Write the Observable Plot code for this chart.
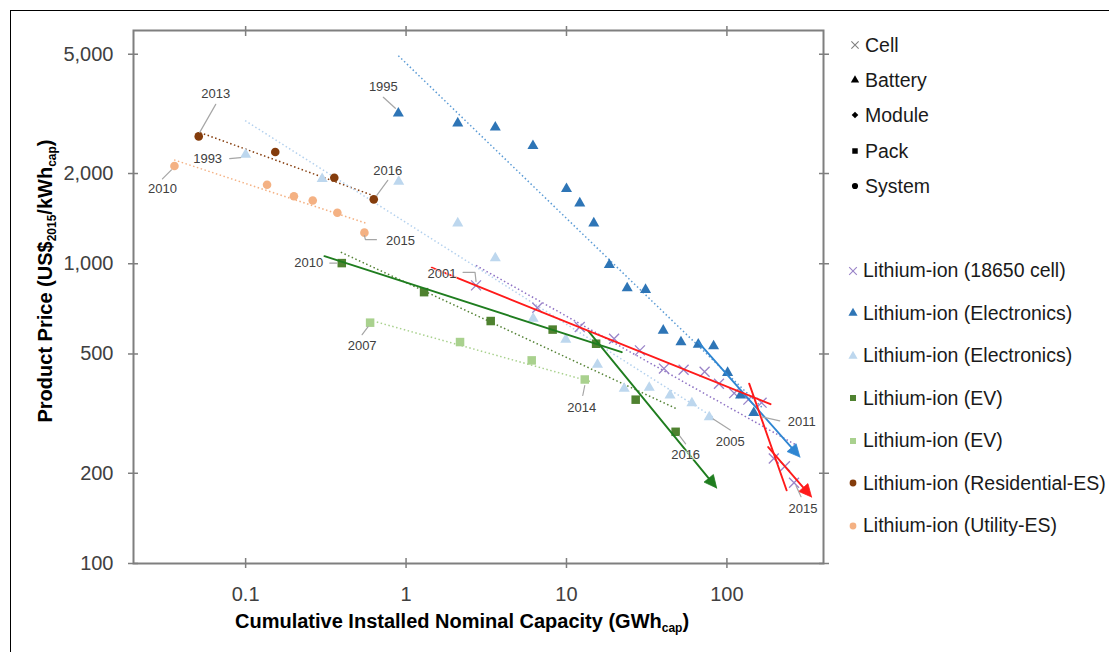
<!DOCTYPE html>
<html>
<head>
<meta charset="utf-8">
<script src="https://cdn.jsdelivr.net/npm/d3@7"></script>
<script src="https://cdn.jsdelivr.net/npm/@observablehq/plot@0.6"></script>
<style>
  body { margin: 0; background: #fff; font-family: "Liberation Sans", Arial, sans-serif; }
  #wrap { position: relative; width: 1109px; height: 652px; overflow: hidden; }
  #border { position: absolute; left: 10px; top: 10px; width: 1300px; height: 800px;
            border-left: 1px solid #000; border-top: 1px solid #000; }
  #chart { position: absolute; left: 0; top: 0; }
  .title { position: absolute; font-weight: bold; font-size: 20px; color: #000; white-space: nowrap; line-height: 1; }
  .title sub { font-size: 0.6em; vertical-align: -0.3em; line-height: 0; }
  #ytitle { left: 45px; top: 281px; transform: translate(-50%, -50%) rotate(-90deg); }
  #xtitle { left: 235px; top: 611px; }
  .lg { position: absolute; height: 24px; display: flex; align-items: center; font-size: 19.5px; color: #1a1a1a; white-space: nowrap; }
  .lg svg { flex: none; }
</style>
</head>
<body>
<div id="wrap">
  <div id="border"></div>
  <div id="chart"></div>
  <div class="title" id="ytitle">Product Price (US$<sub>2015</sub>/kWh<sub>cap</sub>)</div>
  <div class="title" id="xtitle">Cumulative Installed Nominal Capacity (GWh<sub>cap</sub>)</div>
  <div id="legend"></div>
</div>
<script>
// ---- Observations: cumulative capacity (GWh) and product price (US$2015/kWh) ----
const cellCapacity = [2.73, 6.58, 12.1, 19.8, 28.7, 40.5, 53.7, 72.6, 89.2, 111, 136, 164.5, 196, 230, 262];
const cellPrice = [847, 713, 615, 562, 514, 447, 443, 436, 398, 370, 352, 344, 224, 211, 186];
const elecCapacity = [0.895, 2.1, 3.6, 6.18, 10.0, 12.1, 14.8, 18.5, 23.9, 31.1, 40.1, 51.7, 66.3, 82.6, 101, 121.6, 147];
const elecPrice = [3177, 2943, 2853, 2474, 1778, 1592, 1365, 992, 829, 819, 599, 548, 538, 531, 433, 364, 318];
const elecLightCapacity = [0.1, 0.3, 0.9, 2.1, 3.6, 6.2, 9.9, 15.6, 22.9, 32.8, 44.2, 60.5, 77.6];
const elecLightPrice = [2314, 1919, 1879, 1365, 1044, 656, 559, 461, 383, 386, 364, 343, 308];
const evCapacity = [0.3975, 1.295, 3.37, 8.2, 15.3, 27, 47.9];
const evPrice = [1005, 804, 644, 603, 541, 352, 275];
const evLightCapacity = [0.597, 2.17, 6.07, 13.0];
const evLightPrice = [636, 548, 476, 411];
const residentialCapacity = [0.051, 0.153, 0.357, 0.629];
const residentialPrice = [2660, 2360, 1935, 1640];
const utilityCapacity = [0.036, 0.136, 0.200, 0.262, 0.373, 0.55];
const utilityPrice = [2120, 1835, 1680, 1625, 1480, 1270];

// ---- Fitted experience curves (dotted), endpoints in data units ----
const fitSeries = ["residential", "utility", "elecLight", "elec", "cell", "ev", "evLight"];
const fitCapacity = [[0.052, 0.623], [0.0358, 0.561], [0.0993, 81.8], [0.895, 168], [2.73, 272], [0.392, 48.1], [0.657, 14.0]];
const fitPrice = [[2739, 1689], [2221, 1366], [3003, 308], [4943, 329], [987, 248], [1093, 329], [639, 405]];

// ---- Piecewise experience-rate segments (solid), some ending in arrows ----
const segmentSeries = ["ev", "ev", "elec", "cell", "cell", "cell"];
const segmentCapacity = [[0.31, 22.1], [13.7, 86.3], [66.3, 285], [1.446, 187], [137.7, 235.5], [180.8, 337]];
const segmentPrice = [[1060, 507], [596, 178.6], [548, 226.6], [970, 340], [398, 175.5], [244.7, 166.7]];
const segmentArrow = [false, true, true, false, false, true];

// ---- Year annotations: which observation each label points at ----
const annotationText = ["2013", "2016", "2010", "2015", "1993", "1995", "2001", "2010", "2007", "2014", "2016", "2005", "2011", "2015"];
const annotationSeries = ["residential", "residential", "utility", "utility", "elecLight", "elec", "cell", "ev", "evLight", "evLight", "ev", "elecLight", "elec", "cell"];
const annotationIndex = [0, 3, 0, 5, 0, 0, 0, 0, 0, 3, 6, 12, 16, 14];

// ---- Axis ticks ----
const xTicks = [0.1, 1, 10, 100];
const yTicks = [100, 200, 500, 1000, 2000, 5000];

// ---- Legend entries ----
const shapeLabels = ["Cell", "Battery", "Module", "Pack", "System"];
const seriesLabels = ["Lithium-ion (18650 cell)", "Lithium-ion (Electronics)", "Lithium-ion (Electronics)",
  "Lithium-ion (EV)", "Lithium-ion (EV)", "Lithium-ion (Residential-ES)", "Lithium-ion (Utility-ES)"];

// ---------------------------------------------------------------------------
const series = {
  cell:        {capacity: cellCapacity, price: cellPrice},
  elec:        {capacity: elecCapacity, price: elecPrice},
  elecLight:   {capacity: elecLightCapacity, price: elecLightPrice},
  ev:          {capacity: evCapacity, price: evPrice},
  evLight:     {capacity: evLightCapacity, price: evLightPrice},
  residential: {capacity: residentialCapacity, price: residentialPrice},
  utility:     {capacity: utilityCapacity, price: utilityPrice}
};
const seriesOrder = ["cell", "elec", "elecLight", "ev", "evLight", "residential", "utility"];

// styling
const markStyle = {
  cell:        {symbol: "times",    color: "#9a84c8", r: 4.6},
  elec:        {symbol: "triangle", color: "#2e75b6", r: 4.1},
  elecLight:   {symbol: "triangle", color: "#bdd7ee", r: 4.1},
  ev:          {symbol: "square",   color: "#4f8230", r: 4.8},
  evLight:     {symbol: "square",   color: "#a9d18e", r: 4.8},
  residential: {symbol: "circle",   color: "#843c0c", r: 4.3},
  utility:     {symbol: "circle",   color: "#f4b183", r: 4.3}
};
const fitColor = {residential: "#843c0c", utility: "#f4b183", elecLight: "#b4d1ee", elec: "#5b9bd5",
  cell: "#8e72c4", ev: "#548235", evLight: "#a9d18e"};
const segmentColor = {cell: "#ff1a1a", ev: "#1f7d1f", elec: "#2f86d2"};
const legendSymbol = {Cell: ["times", "#808080"], Battery: ["triangle", "#000"], Module: ["diamond", "#000"],
  Pack: ["square", "#000"], System: ["circle", "#000"]};

// per-label layout: text centre offset and leader polyline (pixels from the point)
const annotationLayout = [
  {dx: 17, dy: -43, leader: [[1, -4], [17, -32]]},
  {dx: 14, dy: -29, leader: [[3, -4], [14, -19]]},
  {dx: -12, dy: 23, leader: [[-3, 4], [-12, 13]]},
  {dx: 36, dy: 8, leader: [[0, 3], [1, 7], [12, 7]]},
  {dx: -38, dy: 4, leader: [[-5, 3], [-16, 4]]},
  {dx: -15, dy: -26, leader: [[-3, -5], [-15, -16]]},
  {dx: -34, dy: -12, leader: [[0, -4], [-1, -13], [-13, -13]]},
  {dx: -33, dy: 0, leader: [[-5, 0], [-12, 0]]},
  {dx: -8, dy: 23, leader: [[-2, 4], [-8, 12]]},
  {dx: -3, dy: 28, leader: [[0, 6], [-2, 16]]},
  {dx: 10, dy: 23, leader: [[4, 4], [10, 12]]},
  {dx: 21, dy: 25, leader: [[4, 2], [21, 13]]},
  {dx: 48, dy: 9, leader: [[8, 4], [26, 8]]},
  {dx: 9, dy: 26, leader: [[2, 3], [7, 14]]}
];

const W = 1109, H = 652;
const margin = {top: 30, right: 286, bottom: 89, left: 133};
const xDomain = [0.02, 400], yDomain = [100, 6000];

const sx = Plot.scale({x: {type: "log", domain: xDomain, range: [margin.left, W - margin.right]}});
const sy = Plot.scale({y: {type: "log", domain: yDomain, range: [H - margin.bottom, margin.top]}});
const toPx = (c, p) => [sx.apply(c), sy.apply(p)];
const toData = ([px, py]) => ({capacity: sx.invert(px), price: sy.invert(py)});

const FRAME = "#7f7f7f";
const marks = [];

// dotted fitted curves
fitSeries.forEach((s, i) => {
  marks.push(Plot.line([0, 1].map(k => ({capacity: fitCapacity[i][k], price: fitPrice[i][k]})), {
    x: "capacity", y: "price", stroke: fitColor[s], strokeWidth: 1.5, strokeDasharray: "1.5,2.5", strokeLinecap: "butt"
  }));
});

// observations
seriesOrder.forEach(s => {
  const st = markStyle[s];
  const data = series[s].capacity.map((c, i) => ({capacity: c, price: series[s].price[i]}));
  const opts = {x: "capacity", y: "price", symbol: st.symbol, r: st.r};
  if (st.symbol === "times") Object.assign(opts, {stroke: st.color, strokeWidth: 1.3, fill: "none"});
  else Object.assign(opts, {fill: st.color, stroke: "none"});
  marks.push(Plot.dot(data, opts));
});

// solid segments and filled arrowheads
segmentSeries.forEach((s, i) => {
  const color = segmentColor[s];
  const a = toPx(segmentCapacity[i][0], segmentPrice[i][0]);
  const b = toPx(segmentCapacity[i][1], segmentPrice[i][1]);
  let end = b;
  if (segmentArrow[i]) {
    const len = Math.hypot(b[0] - a[0], b[1] - a[1]);
    const u = [(b[0] - a[0]) / len, (b[1] - a[1]) / len];
    const n = [-u[1], u[0]];
    const L = 12.5, w = 6;
    const base = [b[0] - u[0] * L, b[1] - u[1] * L];
    end = [base[0] + u[0], base[1] + u[1]];
    const head = [b, [base[0] + n[0] * w, base[1] + n[1] * w], [base[0] - n[0] * w, base[1] - n[1] * w], b].map(toData);
    marks.push(Plot.line(head, {x: "capacity", y: "price", fill: color, stroke: color, strokeWidth: 0.8, strokeLinejoin: "miter"}));
  }
  marks.push(Plot.line([a, end].map(toData), {x: "capacity", y: "price", stroke: color, strokeWidth: 1.9}));
});

// leaders and year labels
const labelData = [];
const leaderData = [];
annotationText.forEach((t, i) => {
  const s = series[annotationSeries[i]];
  const k = annotationIndex[i];
  const p = toPx(s.capacity[k], s.price[k]);
  const lay = annotationLayout[i];
  labelData.push({...toData([p[0] + lay.dx, p[1] + lay.dy]), text: t});
  lay.leader.forEach(([ox, oy]) => leaderData.push({...toData([p[0] + ox, p[1] + oy]), id: i}));
});
marks.push(Plot.line(leaderData, {x: "capacity", y: "price", z: "id", stroke: "#a6a6a6", strokeWidth: 1.2}));
marks.push(Plot.text(labelData, {x: "capacity", y: "price", text: "text", fontSize: 13, fill: "#404040",
  stroke: "white", strokeWidth: 2, strokeOpacity: 0.7}));

// frame, axes with crossing ticks on all four sides
marks.push(Plot.frame({stroke: FRAME, strokeWidth: 2}));
marks.push(Plot.axisY({ticks: yTicks, anchor: "left", tickSize: 10, dx: 5, tickFormat: () => "", stroke: FRAME, strokeWidth: 1.5, label: null}));
marks.push(Plot.axisY({ticks: yTicks, anchor: "right", tickSize: 10, dx: -5, tickFormat: () => "", stroke: FRAME, strokeWidth: 1.5, label: null}));
marks.push(Plot.axisX({ticks: xTicks, anchor: "bottom", tickSize: 10, dy: -5, tickFormat: () => "", stroke: FRAME, strokeWidth: 1.5, label: null}));
marks.push(Plot.axisX({ticks: xTicks, anchor: "top", tickSize: 10, dy: 5, tickFormat: () => "", stroke: FRAME, strokeWidth: 1.5, label: null}));
marks.push(Plot.axisY({ticks: yTicks, anchor: "left", tickSize: 0, tickPadding: 20, tickFormat: d3.format(","), fontSize: 20, fill: "#404040", label: null}));
marks.push(Plot.axisX({ticks: xTicks, anchor: "bottom", tickSize: 0, tickPadding: 23, tickFormat: d => String(d), fontSize: 20, fill: "#404040", label: null}));

const chart = Plot.plot({
  width: W, height: H,
  marginTop: margin.top, marginRight: margin.right, marginBottom: margin.bottom, marginLeft: margin.left,
  style: {fontFamily: "'Liberation Sans', Arial, sans-serif", background: "transparent", overflow: "visible"},
  x: {type: "log", domain: xDomain, label: null},
  y: {type: "log", domain: yDomain, label: null},
  marks
});
document.getElementById("chart").append(chart);

// ---- legend ----
const symbolPath = {times: d3.symbolTimes, triangle: d3.symbolTriangle, diamond: d3.symbolSquare, square: d3.symbolSquare, circle: d3.symbolCircle};
function icon(shape, color, size) {
  const svg = d3.create("svg").attr("width", 14).attr("height", 14).attr("viewBox", "-7 -7 14 14");
  const p = svg.append("path").attr("d", d3.symbol(symbolPath[shape], size)());
  if (shape === "diamond") p.attr("transform", "rotate(45)");
  if (shape === "times") p.attr("fill", "none").attr("stroke", color).attr("stroke-width", 1.1);
  else p.attr("fill", color);
  return svg.node();
}
const legend = document.getElementById("legend");
const shapeRowY = [45, 80, 115, 151, 186];
shapeLabels.forEach((lab, i) => {
  const row = document.createElement("div");
  row.className = "lg";
  row.style.left = "848px";
  row.style.top = (shapeRowY[i] - 12) + "px";
  const [shape, color] = legendSymbol[lab];
  const ic = icon(shape, color, shape === "times" ? 36 : shape === "diamond" ? 22 : 30);
  ic.style.marginRight = "3px";
  row.append(ic, document.createTextNode(lab));
  legend.append(row);
});
const seriesRowY = [270.5, 313, 355.5, 398, 440.5, 483, 525.5];
seriesLabels.forEach((lab, i) => {
  const st = markStyle[seriesOrder[i]];
  const row = document.createElement("div");
  row.className = "lg";
  row.style.left = "846px";
  row.style.top = (seriesRowY[i] - 12) + "px";
  const ic = icon(st.symbol, st.color, st.symbol === "times" ? 40 : 36);
  ic.style.marginRight = "3px";
  row.append(ic, document.createTextNode(lab));
  legend.append(row);
});
</script>
</body>
</html>
